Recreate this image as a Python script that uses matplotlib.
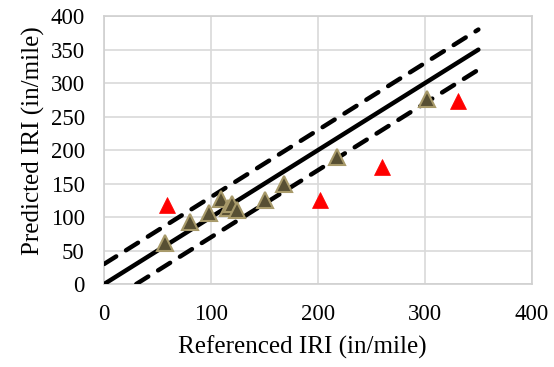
import numpy as np
import matplotlib.pyplot as plt

plt.rcParams['font.family'] = ['Liberation Serif', 'DejaVu Serif']

# reference vs predicted IRI (in/mile)
ref_ok = [57, 80, 98, 109, 116, 120, 124, 150, 168, 218, 302]
pred_ok = [62, 92, 106, 127, 113, 119, 110, 126, 150, 190, 276]
ref_out = [59, 202, 260, 331]
pred_out = [118, 126, 175, 273]
line_x = [0, 350]
band = 30

fig = plt.figure(figsize=(5.54, 3.67), dpi=100)
ax = fig.add_axes([0.188, 0.226, 0.772, 0.730])

lx = np.array(line_x)
ax.plot(lx, lx, color='black', lw=3.2, solid_capstyle='round', zorder=3)
ax.plot(lx, lx + band, color='black', lw=3.2, dashes=(3.2, 2.6),
        dash_capstyle='round', zorder=3)
ax.plot([band, lx[1]], [0, lx[1] - band], color='black', lw=3.2,
        dashes=(3.2, 2.6), dash_capstyle='round', zorder=3)

ax.plot(ref_ok, pred_ok, linestyle='none', marker='^', ms=11,
        mfc='#574f33', mec='#a89a6a', mew=1.5, zorder=4)
ax.plot(ref_out, pred_out, linestyle='none', marker='^', ms=11,
        mfc='#ff0000', mec='#ff0000', mew=0.5, zorder=4)

ax.set_xlim(0, 400)
ax.set_ylim(0, 400)
ax.set_xticks(range(0, 401, 100))
ax.set_yticks(range(0, 401, 50))
ax.grid(True, color='#d9d9d9', lw=1.2)
ax.set_axisbelow(True)
for s in ax.spines.values():
    s.set_color('#d0d0d0')
    s.set_linewidth(1.2)
ax.tick_params(length=0, labelsize=16.5)
ax.tick_params(axis='x', pad=14)
ax.tick_params(axis='y', pad=14)
ax.set_xlabel('Referenced IRI (in/mile)', fontsize=18, labelpad=8)
ax.set_ylabel('Predicted IRI (in/mile)', fontsize=18, labelpad=4)
ax.xaxis.label.set_x(0.463)
ax.yaxis.label.set_y(0.537)

fig.savefig('out.png', dpi=100)
